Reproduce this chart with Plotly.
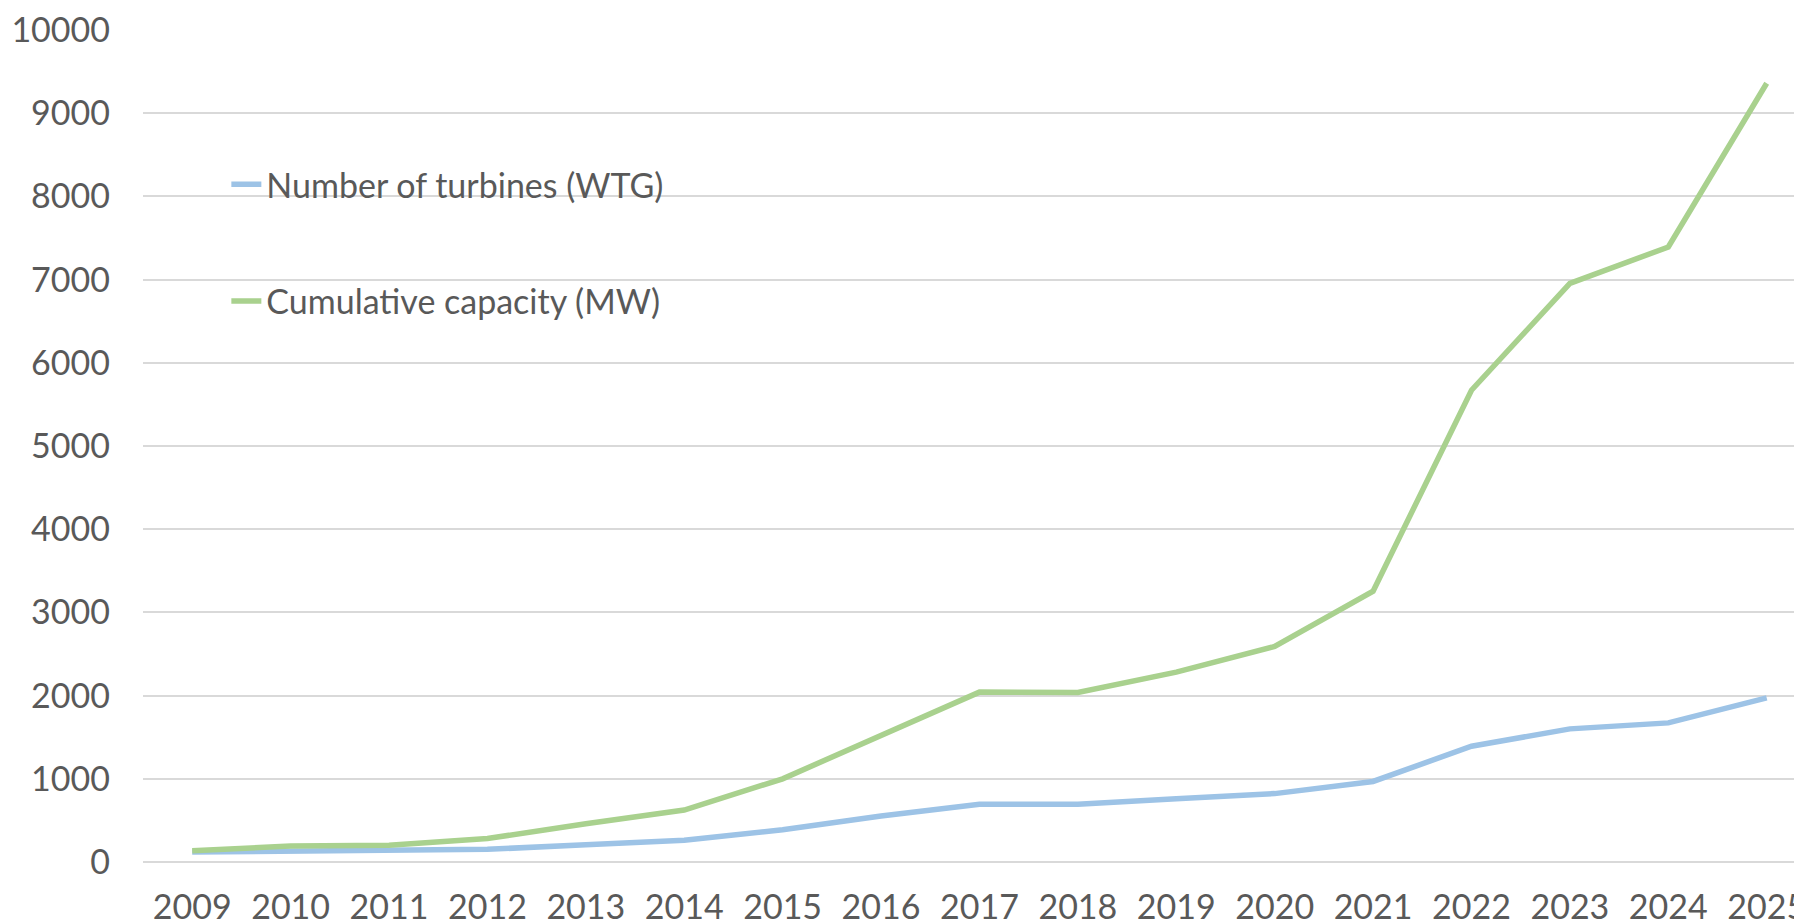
import plotly.graph_objects as go

years = ["2009", "2010", "2011", "2012", "2013", "2014", "2015", "2016", "2017",
         "2018", "2019", "2020", "2021", "2022", "2023", "2024", "2025"]
turbines = [120, 128, 132, 152, 208, 262, 388, 552, 695, 695, 760, 822, 968,
            1392, 1600, 1672, 1972]
capacity = [135, 192, 200, 282, 460, 625, 1000, 1520, 2042, 2038, 2282, 2590,
            3255, 5670, 6955, 7392, 9360]

series_names = ["Number of turbines (WTG)", "Cumulative capacity (MW)"]
colors = ["#9DC3E6", "#A9D18E"]

FONT = "Lato"
TEXT = "#595959"
FS = 34

fig = go.Figure()
fig.add_trace(go.Scatter(x=years, y=turbines, mode="lines", name=series_names[0],
                         line=dict(color=colors[0], width=5.5), legend="legend"))
fig.add_trace(go.Scatter(x=years, y=capacity, mode="lines", name=series_names[1],
                         line=dict(color=colors[1], width=5.5), legend="legend2"))

legend_common = dict(font=dict(family=FONT, size=FS, color=TEXT),
                     bgcolor="rgba(0,0,0,0)", xanchor="left", yanchor="middle",
                     itemwidth=30)

fig.update_layout(
    width=1802, height=924,
    margin=dict(l=135, r=0, t=13, b=70),
    plot_bgcolor="white", paper_bgcolor="white",
    font=dict(family=FONT, size=FS, color=TEXT),
    showlegend=True,
    legend=dict(x=0.05, y=0.813, **legend_common),
    legend2=dict(x=0.05, y=0.673, **legend_common),
    xaxis=dict(type="category", range=[-0.5, 16.44], showgrid=False,
               showline=False, ticks="", tickfont=dict(family=FONT, size=FS, color=TEXT),
               ticklabelstandoff=22, ticklabeloverflow="allow"),
    yaxis=dict(range=[0, 10012], dtick=1000, tickformat="d", showgrid=True,
               gridcolor="#D9D9D9", gridwidth=2, zeroline=True,
               zerolinecolor="#D9D9D9", zerolinewidth=2,
               showline=False, ticks="", tickfont=dict(family=FONT, size=FS, color=TEXT),
               ticklabelstandoff=32, ticklabeloverflow="allow"),
)

fig.write_html("out.html")
